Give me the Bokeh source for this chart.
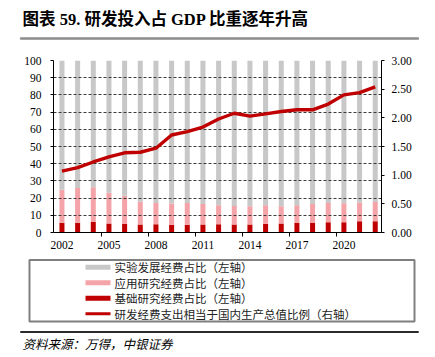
from bokeh.plotting import figure
from bokeh.models import (ColumnDataSource, LinearAxis, Range1d, FixedTicker, Label,
                          PrintfTickFormatter)
from bokeh.core.properties import value
from bokeh.layouts import column
from bokeh.embed import file_html
from bokeh.resources import INLINE

# ---------------- data ----------------
years = [2002, 2003, 2004, 2005, 2006, 2007, 2008, 2009, 2010, 2011, 2012,
         2013, 2014, 2015, 2016, 2017, 2018, 2019, 2020, 2021, 2022]
basic = [5.6, 5.6, 6.1, 5.3, 5.0, 4.6, 4.8, 4.5, 4.5, 4.7, 4.8,
         4.6, 4.6, 5.1, 5.2, 5.5, 5.5, 6.0, 6.0, 6.5, 6.6]
applied = [19.2, 20.2, 20.2, 17.8, 16.3, 13.3, 12.3, 12.4, 12.6, 11.8, 11.1,
           10.8, 10.6, 10.7, 10.0, 10.3, 11.0, 11.1, 11.0, 11.0, 11.1]
experimental = [75.2, 74.2, 73.7, 76.9, 78.7, 82.1, 82.9, 83.1, 82.9, 83.5, 84.1,
                84.6, 84.8, 84.2, 84.8, 84.2, 83.5, 82.9, 83.0, 82.5, 82.3]
rd_gdp = [1.07, 1.13, 1.23, 1.32, 1.39, 1.40, 1.47, 1.70, 1.76, 1.84, 1.98,
          2.08, 2.03, 2.07, 2.11, 2.14, 2.14, 2.24, 2.40, 2.44, 2.54]
tick_years = [2002, 2005, 2008, 2011, 2014, 2017, 2020]
left_ticks = [0, 10, 20, 30, 40, 50, 60, 70, 80, 90, 100]
right_ticks = [0.0, 0.5, 1.0, 1.5, 2.0, 2.5, 3.0]
names = ["实验发展经费占比（左轴）", "应用研究经费占比（左轴）",
         "基础研究经费占比（左轴）", "研发经费支出相当于国内生产总值比例（右轴）"]
title_text = "图表 59. 研发投入占 GDP 比重逐年升高"
source_text = "资料来源：万得，中银证券"

# ---------------- styles ----------------
C_GRAY = "#C8C8C8"
C_PINK = "#F4A3A8"
C_DARK = "#C00000"
C_LINE = "#C00000"
SERIF = "Liberation Serif"
CJK = "Noto Sans CJK SC"
W = 435


def strip(h):
    # pixel-coordinate strip (y measured upward from the strip's bottom)
    f = figure(width=W, height=h, x_range=Range1d(0, W), y_range=Range1d(0, h),
               x_axis_type=None, y_axis_type=None, output_backend="svg",
               toolbar_location=None, min_border=0, outline_line_color=None)
    f.frame_align = False
    return f


# ---------------- title strip (page y 0..46) ----------------
TH = 46
pa = strip(TH)
pa.quad(left=[20], right=[418], top=[TH - 37.5], bottom=[TH - 38.5],
        fill_color=None, line_color="#8C8C8C", line_width=1.2)
pa.segment(x0=[20], x1=[418], y0=[TH - 38], y1=[TH - 38],
           line_color="#8C8C8C", line_width=2)
pa.text(x=[22], y=[TH - 18.5], text=[title_text], text_baseline="middle", text_align="left",
        text_font=value("'Liberation Serif', 'Noto Sans CJK SC'"), text_font_size="16.5px",
        text_font_style="bold", text_color="#000000")

# ---------------- main chart (page y 46..255) ----------------
idx = list(range(len(years)))
src = ColumnDataSource(dict(x=idx, basic=basic, applied=applied,
                            experimental=experimental, rd=rd_gdp))

p = figure(width=W, height=209, x_range=Range1d(-0.54, 20.40), y_range=Range1d(0, 100),
           output_backend="svg", toolbar_location=None,
           min_border_left=53, min_border_right=54, min_border_top=14, min_border_bottom=23)
p.frame_align = False
p.outline_line_color = None
p.extra_y_ranges = {"r": Range1d(0, 3)}

bars = p.vbar_stack(["basic", "applied", "experimental"], x="x", width=0.32, source=src,
                    color=[C_DARK, C_PINK, C_GRAY], line_width=0, level="underlay")
ln = p.line("x", "rd", source=src, y_range_name="r", line_color=C_LINE, line_width=3.4,
            line_join="round", level="annotation")

p.xgrid.visible = False
p.ygrid.ticker = FixedTicker(ticks=left_ticks)
p.ygrid.grid_line_color = "#3C3C3C"
p.ygrid.grid_line_dash = "3 2"
p.ygrid.grid_line_width = 1
p.ygrid.level = "glyph"

xa = p.xaxis[0]
xa.ticker = FixedTicker(ticks=[years.index(y) for y in tick_years],
                        minor_ticks=[2.5, 5.5, 8.5, 11.5, 14.5, 17.5])
xa.major_label_overrides = {years.index(y): str(y) for y in tick_years}
xa.major_tick_line_color = None
xa.major_tick_out = 0
xa.major_tick_in = 0
xa.minor_tick_out = 4
xa.minor_tick_in = 0
xa.minor_tick_line_color = "#000000"
xa.axis_line_color = "#000000"
xa.major_label_standoff = 4
xa.major_label_text_font = SERIF
xa.major_label_text_font_size = "11.5px"
xa.major_label_text_color = "#000000"

ya = p.yaxis[0]
ya.ticker = FixedTicker(ticks=left_ticks)
ya.major_tick_out = 3
ya.major_tick_in = 0
ya.minor_tick_line_color = None
ya.axis_line_color = "#000000"
ya.major_tick_line_color = "#000000"
ya.major_label_standoff = 9
ya.major_label_text_font = SERIF
ya.major_label_text_font_size = "11.5px"
ya.major_label_text_color = "#000000"

ra = LinearAxis(y_range_name="r", ticker=FixedTicker(ticks=right_ticks),
                formatter=PrintfTickFormatter(format="%.2f"))
ra.major_tick_out = 3
ra.major_tick_in = 0
ra.minor_tick_line_color = None
ra.axis_line_color = "#000000"
ra.major_tick_line_color = "#000000"
ra.major_label_standoff = 7
ra.major_label_text_font = SERIF
ra.major_label_text_font_size = "11.5px"
ra.major_label_text_color = "#000000"
p.add_layout(ra, "right")

for xx, yy, rng in ((0.0, 100, "default"), (19.7, 3.0, "r")):
    p.add_layout(Label(x=xx, y=yy, y_range_name=rng, y_offset=3, text="(%)",
                       text_align="center", text_baseline="bottom",
                       text_font=SERIF, text_font_size="11.5px", text_color="#000000"))

# ---------------- legend + source strip (page y 255..356) ----------------
BH = 101
pl2 = strip(BH)
pl2.quad(left=[29], right=[414], top=[BH - 4.5], bottom=[BH - 66], fill_color=None,
         line_color="#7F7F7F", line_width=2)
row_y = [BH - (11.7 + 15.5 * i) for i in range(4)]
pl2.segment(x0=[85] * 4, x1=[110] * 4, y0=row_y, y1=row_y,
            line_color=[C_GRAY, C_PINK, C_DARK, C_LINE], line_width=[5, 5, 5, 3])
pl2.text(x=[114] * 4, y=row_y, text=names, text_baseline="middle", text_align="left",
         text_font=value(CJK), text_font_size="11.5px", text_color="#222222")
pl2.quad(left=[20], right=[418], top=[BH - 76.3], bottom=[BH - 76.7],
         fill_color=None, line_color="#000000", line_width=0.8)
pl2.segment(x0=[20], x1=[418], y0=[BH - 76.5], y1=[BH - 76.5],
            line_color="#000000", line_width=1)
pl2.text(x=[22], y=[BH - 87.5], text=[source_text], text_baseline="middle", text_align="left",
         text_font=value(CJK), text_font_size="12.5px", text_font_style="italic",
         text_color="#000000")

layout = column(pa, p, pl2, spacing=0)
open("out.html", "w").write(file_html(layout, INLINE))
